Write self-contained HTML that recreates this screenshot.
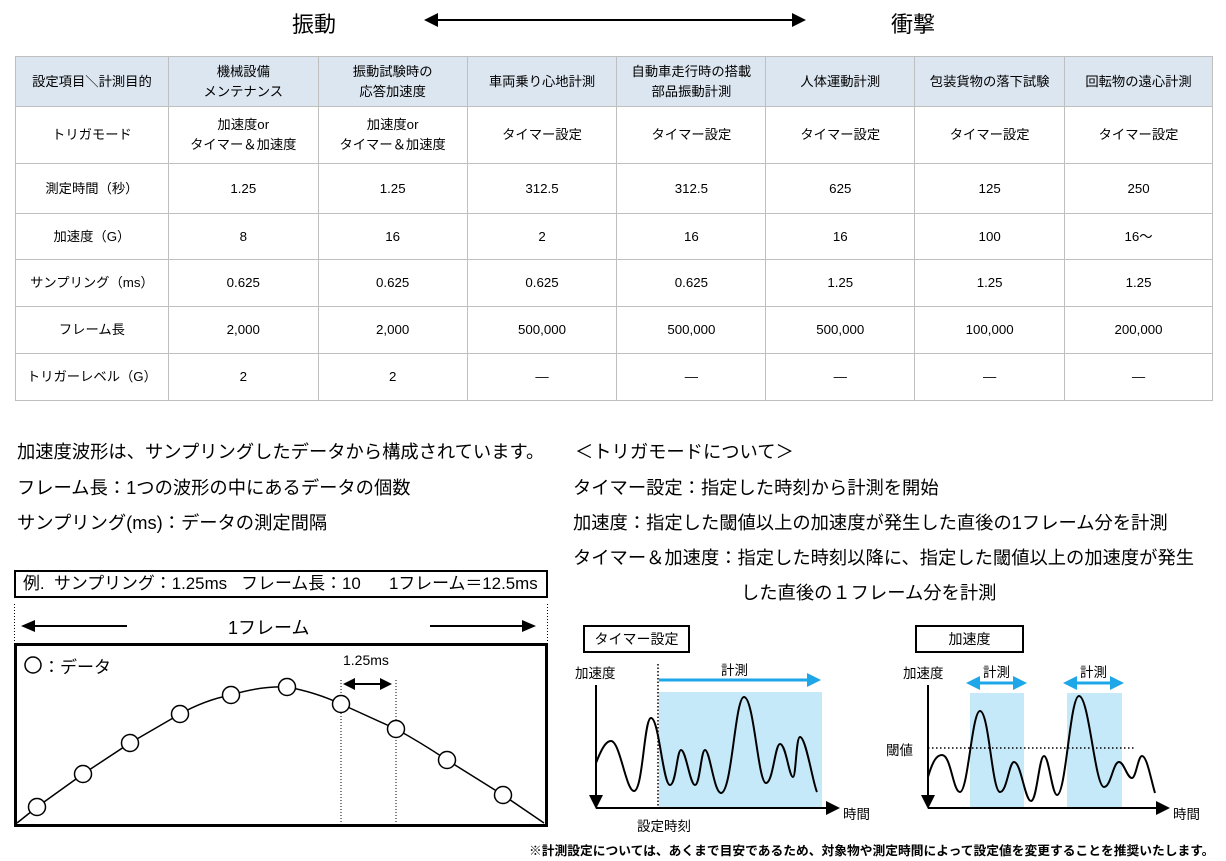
<!DOCTYPE html>
<html><head><meta charset="utf-8">
<style>
*{margin:0;padding:0;box-sizing:border-box}
body{width:1226px;height:861px;background:#fff;position:relative;overflow:hidden;font-family:"Liberation Sans","Noto Sans CJK JP",sans-serif;color:#000}
.t{position:absolute;white-space:nowrap}
table{position:absolute;left:15px;top:56px;width:1198px;border-collapse:collapse;font-size:13.3px}
td{border:1px solid #bfbfbf;text-align:center;vertical-align:middle;line-height:20px;padding:0}
tr.h td{background:#dce6f1}
</style></head><body>
<div class="t" style="left:292px;top:7px;font-size:22px">振動</div>
<div class="t" style="left:891px;top:7px;font-size:22px">衝撃</div>
<svg style="position:absolute;left:0;top:0" width="1226" height="861">
<line x1="436" y1="20" x2="795" y2="20" stroke="#000" stroke-width="2"/>
<polygon points="424,20 438,13 438,27"/><polygon points="806,20 792,13 792,27"/>
</svg>
<table>
<colgroup><col style="width:153px"><col style="width:150px"><col style="width:149px"><col style="width:150px"><col style="width:149px"><col style="width:149px"><col style="width:150px"><col style="width:148px"></colgroup>
<tr class="h" style="height:50px"><td>設定項目＼計測目的</td><td>機械設備<br>メンテナンス</td><td>振動試験時の<br>応答加速度</td><td>車両乗り心地計測</td><td>自動車走行時の搭載<br>部品振動計測</td><td>人体運動計測</td><td>包装貨物の落下試験</td><td>回転物の遠心計測</td></tr>
<tr style="height:57px"><td>トリガモード</td><td>加速度or<br>タイマー＆加速度</td><td>加速度or<br>タイマー＆加速度</td><td>タイマー設定</td><td>タイマー設定</td><td>タイマー設定</td><td>タイマー設定</td><td>タイマー設定</td></tr>
<tr style="height:50px"><td>測定時間（秒）</td><td>1.25</td><td>1.25</td><td>312.5</td><td>312.5</td><td>625</td><td>125</td><td>250</td></tr>
<tr style="height:46px"><td>加速度（G）</td><td>8</td><td>16</td><td>2</td><td>16</td><td>16</td><td>100</td><td>16～</td></tr>
<tr style="height:47px"><td>サンプリング（ms）</td><td>0.625</td><td>0.625</td><td>0.625</td><td>0.625</td><td>1.25</td><td>1.25</td><td>1.25</td></tr>
<tr style="height:47px"><td>フレーム長</td><td>2,000</td><td>2,000</td><td>500,000</td><td>500,000</td><td>500,000</td><td>100,000</td><td>200,000</td></tr>
<tr style="height:47px"><td>トリガーレベル（G）</td><td>2</td><td>2</td><td>―</td><td>―</td><td>―</td><td>―</td><td>―</td></tr>
</table>

<div class="t" style="left:17px;top:438px;font-size:18.3px">加速度波形は、サンプリングしたデータから構成されています。</div>
<div class="t" style="left:17px;top:474px;font-size:18.3px">フレーム長：1つの波形の中にあるデータの個数</div>
<div class="t" style="left:17px;top:509px;font-size:18.3px">サンプリング(ms)：データの測定間隔</div>

<div class="t" style="left:575px;top:438px;font-size:18.3px">＜トリガモードについて＞</div>
<div class="t" style="left:573px;top:474px;font-size:18.3px">タイマー設定：指定した時刻から計測を開始</div>
<div class="t" style="left:573px;top:509px;font-size:18.3px">加速度：指定した閾値以上の加速度が発生した直後の1フレーム分を計測</div>
<div class="t" style="left:573px;top:544px;font-size:18.3px">タイマー＆加速度：指定した時刻以降に、指定した閾値以上の加速度が発生</div>
<div class="t" style="left:741px;top:579px;font-size:18.3px">した直後の１フレーム分を計測</div>

<div class="t" style="left:14px;top:570px;width:534px;height:28px;border:2px solid #000;font-size:16.9px;line-height:24px;padding-left:7px">例.&nbsp; サンプリング：1.25ms&nbsp;&nbsp; フレーム長：10&nbsp;&nbsp;&nbsp;&nbsp;&nbsp; 1フレーム＝12.5ms</div>
<div class="t" style="left:228px;top:614px;font-size:18px">1フレーム</div>
<div class="t" style="left:43px;top:653px;font-size:17px">：データ</div>
<div class="t" style="left:343px;top:652px;font-size:14px">1.25ms</div>

<div class="t" style="left:583px;top:625px;width:107px;height:28px;border:2px solid #000;font-size:14px;line-height:24px;text-align:center">タイマー設定</div>
<div class="t" style="left:915px;top:625px;width:109px;height:28px;border:2px solid #000;font-size:14px;line-height:24px;text-align:center">加速度</div>
<div class="t" style="left:575px;top:662px;font-size:13.5px">加速度</div>
<div class="t" style="left:721px;top:659px;font-size:13.5px">計測</div>
<div class="t" style="left:843px;top:803px;font-size:13.5px">時間</div>
<div class="t" style="left:637px;top:815px;font-size:13.5px">設定時刻</div>
<div class="t" style="left:903px;top:662px;font-size:13.5px">加速度</div>
<div class="t" style="left:983px;top:661px;font-size:13.5px">計測</div>
<div class="t" style="left:1080px;top:661px;font-size:13.5px">計測</div>
<div class="t" style="left:886px;top:739px;font-size:13.5px">閾値</div>
<div class="t" style="left:1173px;top:803px;font-size:13.5px">時間</div>
<div class="t" style="left:529px;top:840px;font-size:12.75px;font-weight:bold">※計測設定については、あくまで目安であるため、対象物や測定時間によって設定値を変更することを推奨いたします。</div>

<svg style="position:absolute;left:0;top:0" width="1226" height="861">
<line x1="14.5" y1="604" x2="14.5" y2="642" stroke="#000" stroke-dasharray="1,2"/>
<line x1="547.5" y1="604" x2="547.5" y2="642" stroke="#000" stroke-dasharray="1,2"/>
<line x1="32" y1="626" x2="127" y2="626" stroke="#000" stroke-width="2"/><polygon points="21,626 35,620 35,632"/>
<line x1="430" y1="626" x2="525" y2="626" stroke="#000" stroke-width="2"/><polygon points="536,626 522,620 522,632"/>
<rect x="15.5" y="644.5" width="531" height="181" fill="none" stroke="#000" stroke-width="3"/>
<circle cx="33" cy="665" r="8" fill="#fff" stroke="#000" stroke-width="1.5"/>
<line x1="341" y1="680" x2="341" y2="825" stroke="#000" stroke-dasharray="1,2"/>
<line x1="396" y1="680" x2="396" y2="825" stroke="#000" stroke-dasharray="1,2"/>
<line x1="352" y1="684" x2="384" y2="684" stroke="#000" stroke-width="2"/><polygon points="343,684 355,678 355,690"/><polygon points="392,684 380,678 380,690"/>
<path d="M17,823 L37,807 L83,774 L130,743 L180,714 Q205,700 231,695 Q260,686 287,687 Q315,692 341,704 L396,729 Q420,742 447,760 L503,795 L544,823" fill="none" stroke="#000" stroke-width="1.5"/>
<g fill="#fff" stroke="#000" stroke-width="1.5">
<circle cx="37" cy="807" r="8.5"/><circle cx="83" cy="774" r="8.5"/><circle cx="130" cy="743" r="8.5"/><circle cx="180" cy="714" r="8.5"/><circle cx="231" cy="695" r="8.5"/><circle cx="287" cy="687" r="8.5"/><circle cx="341" cy="704" r="8.5"/><circle cx="396" cy="729" r="8.5"/><circle cx="447" cy="760" r="8.5"/><circle cx="503" cy="795" r="8.5"/>
</g>
<rect x="659" y="692" width="163" height="116" fill="#c5e9f8"/>
<line x1="658" y1="664" x2="658" y2="808" stroke="#000" stroke-width="1.5" stroke-dasharray="1.5,2"/>
<line x1="659" y1="680" x2="810" y2="680" stroke="#1ea7e8" stroke-width="3"/><polygon points="821,680 807,673 807,687" fill="#1ea7e8"/>
<line x1="596" y1="685" x2="596" y2="797" stroke="#000" stroke-width="2"/><polygon points="596,809 589,795 603,795"/>
<line x1="596" y1="808" x2="828" y2="808" stroke="#000" stroke-width="2"/><polygon points="840,808 826,801 826,815"/>
<path d="M596,763 C603,745 607,741 611,741 C620,741 626,791 634,791 C643,791 644,718 651,718 C659,718 663,785 670,785 C676,785 677,750 681,750 C686,750 690,785 695,785 C700,785 701,750 705,750 C710,750 714,793 721,793 C732,793 735,697 744,697 C754,697 758,783 766,783 C773,783 775,744 780,744 C786,744 789,777 793,777 C796,777 796,737 800,737 C806,737 813,784 817,792" fill="none" stroke="#000" stroke-width="2"/>
<rect x="970" y="693" width="54" height="115" fill="#c5e9f8"/>
<rect x="1067" y="693" width="55" height="115" fill="#c5e9f8"/>
<line x1="928" y1="748" x2="1134" y2="748" stroke="#000" stroke-width="1.5" stroke-dasharray="1.5,2.5"/>
<line x1="978" y1="683" x2="1016" y2="683" stroke="#1ea7e8" stroke-width="3"/><polygon points="966,683 980,676 980,690" fill="#1ea7e8"/><polygon points="1027,683 1013,676 1013,690" fill="#1ea7e8"/>
<line x1="1075" y1="683" x2="1113" y2="683" stroke="#1ea7e8" stroke-width="3"/><polygon points="1063,683 1077,676 1077,690" fill="#1ea7e8"/><polygon points="1124,683 1110,676 1110,690" fill="#1ea7e8"/>
<line x1="928" y1="685" x2="928" y2="797" stroke="#000" stroke-width="2"/><polygon points="928,809 921,795 935,795"/>
<line x1="928" y1="808" x2="1158" y2="808" stroke="#000" stroke-width="2"/><polygon points="1170,808 1156,801 1156,815"/>
<path d="M928,777 C933,760 937,755 942,755 C951,755 953,792 960,792 C968,792 972,711 980,711 C989,711 992,792 1000,792 C1007,792 1009,762 1014,762 C1021,762 1025,801 1031,801 C1037,801 1039,756 1044,756 C1049,756 1052,795 1057,795 C1066,795 1070,696 1079,696 C1089,696 1095,787 1104,787 C1111,787 1113,762 1119,762 C1124,762 1127,778 1132,778 C1136,778 1138,756 1142,756 C1147,756 1151,780 1155,793" fill="none" stroke="#000" stroke-width="2"/>
</svg>
</body></html>
